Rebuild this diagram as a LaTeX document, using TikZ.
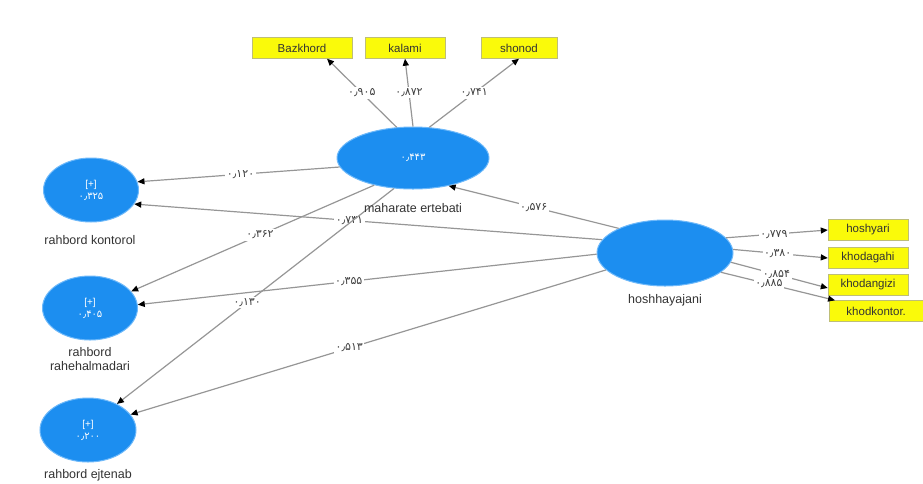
\documentclass[tikz,border=0pt]{standalone}
\usepackage{fontspec}
\setmainfont{Liberation Sans}
\newfontfamily\fanum[Script=Arabic]{DejaVu Sans}
\usetikzlibrary{arrows.meta,shapes.geometric}
\definecolor{lvblue}{RGB}{28,142,240}
\definecolor{lvedge}{RGB}{110,185,250}
\definecolor{mvyellow}{RGB}{250,250,10}
\definecolor{mvedge}{RGB}{190,190,120}
\definecolor{pathgray}{RGB}{150,150,150}

\begin{document}
\begin{tikzpicture}[x=1pt, y=-1pt,
    latent/.style={ellipse, fill=lvblue, draw=lvedge, line width=1pt, text=white, align=center, font=\fontsize{10}{12}\selectfont},
    manifest/.style={rectangle, fill=mvyellow, draw=mvedge, minimum height=21pt, inner sep=2pt, font=\fontsize{11.5}{12}\selectfont\color{black!80}},
    caption/.style={font=\fontsize{12.5}{14}\selectfont\color{black!80}, align=center},
    path/.style={draw=pathgray, line width=1.2pt, -{Triangle[length=7pt,width=6pt,color=black]}},
    coef/.style={fill=white, inner sep=1.5pt, font=\fanum\fontsize{11}{12}\selectfont\color{black!75}}]
    \useasboundingbox (0,0) rectangle (923,483);

    % Latent variables
    \node [latent, minimum width=152pt, minimum height=62pt] (mah) at (413,158) {\fanum ۰٫۴۴۳};
    \node [latent, minimum width=95pt, minimum height=64pt] (kont) at (91,190) {[+]\\\fanum ۰٫۳۲۵};
    \node [latent, minimum width=95pt, minimum height=64pt] (rahe) at (90,308) {[+]\\\fanum ۰٫۴۰۵};
    \node [latent, minimum width=96pt, minimum height=64pt] (ejt) at (88,430) {[+]\\\fanum ۰٫۲۰۰};
    \node [latent, minimum width=136pt, minimum height=66pt] (hosh) at (665,253) {};

    % Indicators of maharate ertebati
    \node [manifest, minimum width=100pt] (bazk) at (302,48) {Bazkhord};
    \node [manifest, minimum width=80pt] (kal) at (405,48) {kalami};
    \node [manifest, minimum width=76pt] (shon) at (519,48) {shonod};

    % Indicators of hoshhayajani
    \node [manifest, minimum width=80pt] (hoshy) at (868,230) {hoshyari};
    \node [manifest, minimum width=80pt] (khodag) at (868,258) {khodagahi};
    \node [manifest, minimum width=80pt] (khodan) at (868,285) {khodangizi};
    \node [manifest, minimum width=94pt, anchor=west] (khodk) at (829,311) {khodkontor.};

    % Outer loadings, maharate ertebati
    \draw [path] (mah.118) -- ([xshift=25pt]bazk.south) node [coef, midway] (l1) {۰٫۹۰۵};
    \draw [path] (mah.north) -- (kal.south) node [coef, midway] (l2) {۰٫۸۷۲};
    \draw [path] (mah.62) -- (shon.south) node [coef, midway] (l3) {۰٫۷۴۱};

    % Outer loadings, hoshhayajani
    \draw [path] (hosh.14) -- (hoshy.west) node [coef, pos=0.47] (l4) {۰٫۷۷۹};
    \draw [path] (hosh.3) -- (khodag.west) node [coef, pos=0.47] (l5) {۰٫۳۸۰};
    \draw [path] (hosh.-8) -- ([yshift=-3pt]khodan.west) node [coef, pos=0.47] (l6) {۰٫۸۵۴};
    \draw [path] (hosh.-19) -- ([xshift=6pt]khodk.north west) node [coef, pos=0.42] (l7) {۰٫۸۸۵};

    % Inner paths
    \draw [path] (hosh.152) -- (mah.-38) node [coef, pos=0.5] (p1) {۰٫۵۷۶};
    \draw [path] (mah.187) -- (kont.10) node [coef, pos=0.49] (p2) {۰٫۱۲۰};
    \draw [path] (hosh.168) -- (kont.-18) node [coef, pos=0.54] (p3) {۰٫۷۳۱};
    \draw [path] (mah.215) -- (rahe.22) node [coef, pos=0.47] (p4) {۰٫۳۶۲};
    \draw [path] (hosh.181) -- (rahe.4) node [coef, pos=0.54] (p5) {۰٫۳۵۵};
    \draw [path] (mah.238) -- (ejt.42) node [coef, pos=0.53] (p6) {۰٫۱۳۰};
    \draw [path] (hosh.196) -- (ejt.20) node [coef, pos=0.54] (p7) {۰٫۵۱۳};

    % Captions
    \node [caption] (mah_cap) at (413,208) {maharate ertebati};
    \node [caption] (kont_cap) at (90,240) {rahbord kontorol};
    \node [caption] (rahe_cap) at (90,359) {rahbord\\rahehalmadari};
    \node [caption] (ejt_cap) at (88,475) {rahbord ejtenab};
    \node [caption] (hosh_cap) at (665,300) {hoshhayajani};
\end{tikzpicture}
\end{document}
